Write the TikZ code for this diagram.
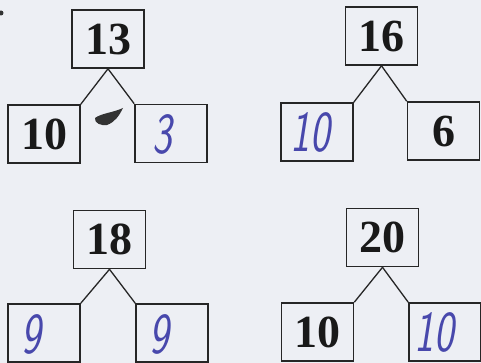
\documentclass[tikz,border=0pt]{standalone}
\usepackage{fontspec}
\newfontfamily\printfont{Liberation Serif}
\definecolor{paper}{HTML}{EDEFF4}
\definecolor{ink}{HTML}{4848AC}
\tikzset{
  numbox/.style={draw=black!85, line width=1.6pt, minimum width=72pt, minimum height=58pt, inner sep=0pt},
  printed/.style={font=\printfont\fontsize{46}{46}\selectfont\bfseries, text=black!90},
  hand/.style={font=\fontsize{58}{58}\selectfont\sffamily\itshape, text=ink, xscale=0.72, transform shape},
  branch/.style={draw=black!85, line width=1.3pt}
}
\begin{document}
\begin{tikzpicture}[x=1pt,y=-1pt]
\fill[paper] (0,0) rectangle (481,363);
\useasboundingbox (0,0) rectangle (481,363);
% tree 1
\node[numbox,printed] (t1) at (108,39) {13};
\node[numbox,printed] (l1) at (44,134) {10};
\node[numbox] (r1) at (171,133.5) {};
\node[hand] (h1) at (162,134) {3};
\draw[branch] (t1.south) -- (l1.north east);
\draw[branch] (t1.south) -- (r1.north west);
% tree 2
\node[numbox,printed] (t2) at (381.5,36) {16};
\node[numbox] (l2) at (317,132) {};
\node[hand] (h2) at (310,132) {10};
\node[numbox,printed] (r2) at (443.5,131) {6};
\draw[branch] (t2.south) -- (l2.north east);
\draw[branch] (t2.south) -- (r2.north west);
% tree 3
\node[numbox,printed] (t3) at (109.5,239.5) {18};
\node[numbox] (l3) at (44,333) {};
\node[hand] (h3) at (31,334) {9};
\node[numbox] (r3) at (172,333) {};
\node[hand] (h4) at (159,334) {9};
\draw[branch] (t3.south) -- (l3.north east);
\draw[branch] (t3.south) -- (r3.north west);
% tree 4
\node[numbox,printed] (t4) at (382.5,237.5) {20};
\node[numbox,printed] (l4) at (317.5,332) {10};
\node[numbox] (r4) at (445,332) {};
\node[hand] (h5) at (434,332) {10};
\draw[branch] (t4.south) -- (l4.north east);
\draw[branch] (t4.south) -- (r4.north west);
% ink blot and specks
\fill[black!80] (95,118) .. controls (102,113) and (112,113) .. (123,108)
  .. controls (119,116) and (115,122) .. (107,125)
  .. controls (101,126) and (94,123) .. (95,118) -- cycle;
\fill[black!80] (1,13) circle (2.5);
\end{tikzpicture}
\end{document}
